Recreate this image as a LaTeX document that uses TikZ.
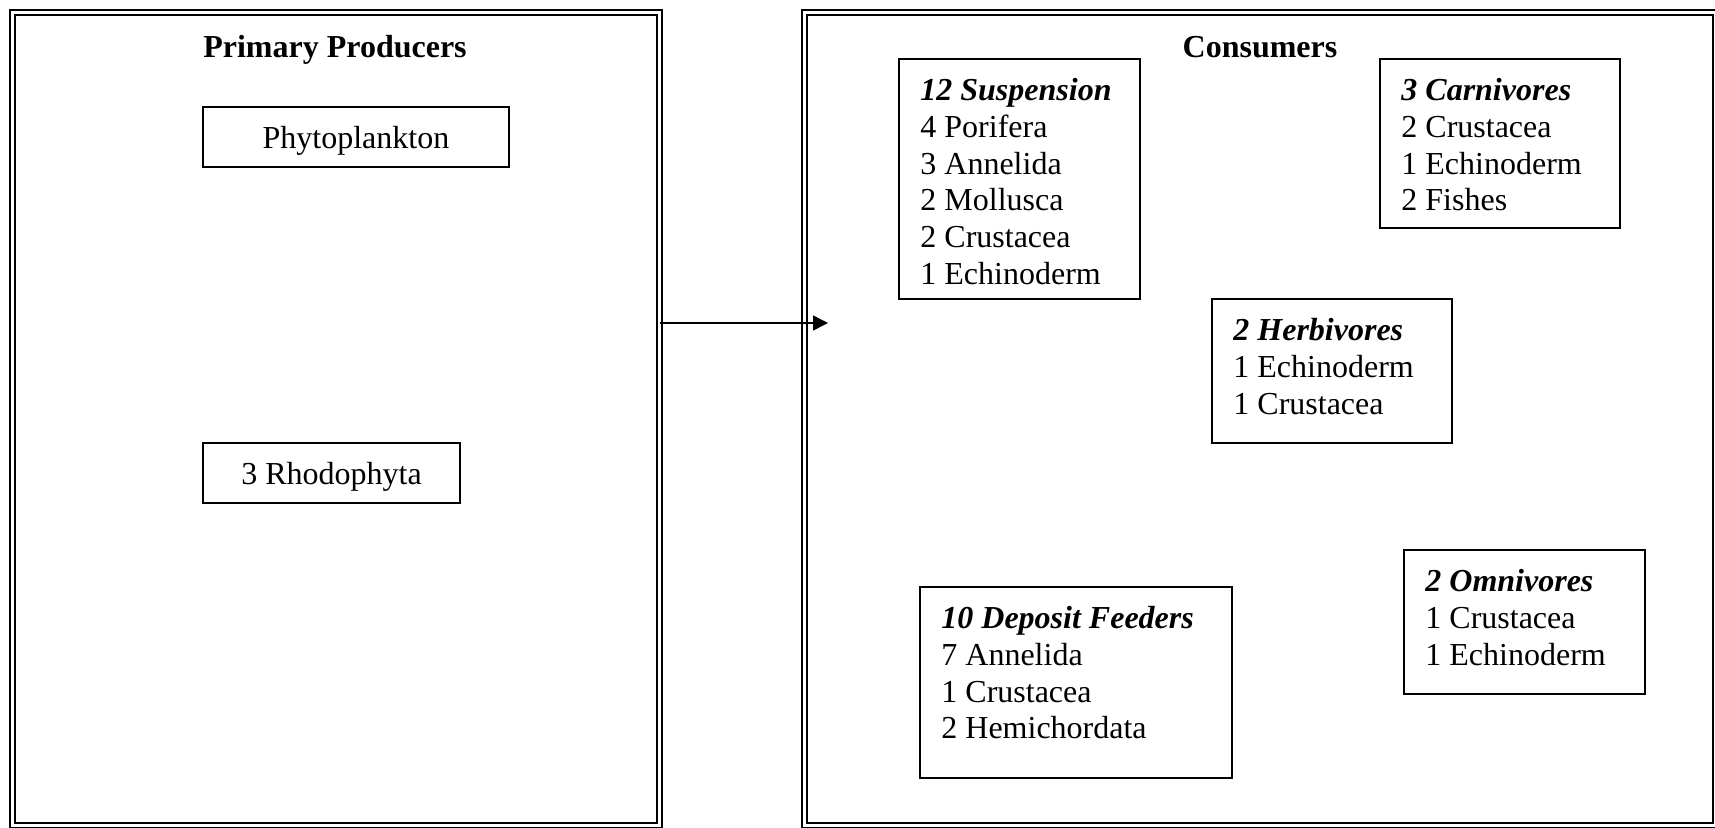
\documentclass[tikz,border=0pt]{standalone}
\usepackage{fontspec}
\setmainfont{Liberation Serif}
\usetikzlibrary{arrows.meta}
\newcommand{\grp}[1]{\textbf{\textit{#1}}}
\begin{document}
\begin{tikzpicture}[x=0.5pt,y=-0.5pt,
  panel/.style={draw,line width=1pt,double,double distance=1.5pt,outer sep=0pt,inner sep=0pt},
  box/.style={draw,line width=1pt,inner sep=0pt,outer sep=0pt,text depth=0pt,font=\fontsize{16pt}{18.35pt}\selectfont},
  heading/.style={anchor=base,inner sep=0pt,font=\fontsize{16pt}{18.35pt}\selectfont\bfseries},
  list/.style={anchor=north west,inner sep=0pt,align=left,font=\fontsize{16pt}{18.35pt}\selectfont}]
\useasboundingbox (0,0) rectangle (1715,827);
\clip (0,0) rectangle (1715,827);
% the two panels
\node[panel,minimum width=323.5pt,minimum height=406.5pt] (prod) at (336,419) {};
\node[panel,minimum width=455.75pt,minimum height=406.5pt] (cons) at (1259.75,419) {};
\node[heading] (prodtitle) at (335,57) {Primary Producers};
\node[heading] (constitle) at (1260,57) {Consumers};
% producers
\node[box,minimum width=153pt,minimum height=30pt] (phyto) at (356,137) {Phytoplankton};
\node[box,minimum width=128.5pt,minimum height=30pt] (rhodo) at (331.5,473) {3 Rhodophyta};
% consumer groups
\node[box,anchor=north west,minimum width=120.5pt,minimum height=120pt] (susp) at (899,59) {};
\node[list] (susptext) at (920,78)
  {\grp{12 Suspension}\\4 Porifera\\3 Annelida\\2 Mollusca\\2 Crustacea\\1 Echinoderm};
\node[box,anchor=north west,minimum width=120pt,minimum height=84.25pt] (carn) at (1380,59) {};
\node[list] (carntext) at (1401,78)
  {\grp{3 Carnivores}\\2 Crustacea\\1 Echinoderm\\2 Fishes};
\node[box,anchor=north west,minimum width=120pt,minimum height=72pt] (herb) at (1212,299) {};
\node[list] (herbtext) at (1233,318)
  {\grp{2 Herbivores}\\1 Echinoderm\\1 Crustacea};
\node[box,anchor=north west,minimum width=156pt,minimum height=95.5pt] (depo) at (920,587) {};
\node[list] (depotext) at (941,606)
  {\grp{10 Deposit Feeders}\\7 Annelida\\1 Crustacea\\2 Hemichordata};
\node[box,anchor=north west,minimum width=120.5pt,minimum height=72pt] (omni) at (1404,550) {};
\node[list] (omnitext) at (1425,569)
  {\grp{2 Omnivores}\\1 Crustacea\\1 Echinoderm};
% energy flow
\coordinate (tip) at (828,323);
\draw[line width=0.75pt,-{Triangle[length=7.5pt,width=7.5pt]}] (prod.east |- tip) -- (tip);
\end{tikzpicture}
\end{document}
